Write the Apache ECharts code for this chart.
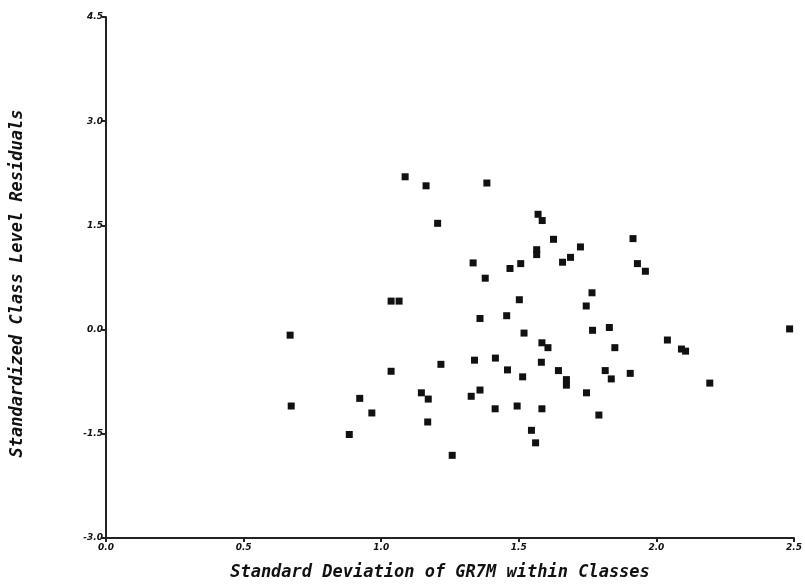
<!DOCTYPE html>
<html>
<head>
<meta charset="utf-8">
<script src="https://cdn.jsdelivr.net/npm/echarts@6/dist/echarts.min.js"></script>
<style>
  html, body { margin: 0; padding: 0; background: #fff; }
  #chart { width: 805px; height: 588px; }
</style>
</head>
<body>
<div id="chart"></div>
<script>
// Standard deviation of GR7M within each class (x)
var stdDevGR7M = [
  0.669, 0.673, 0.884, 0.922, 0.966, 1.036, 1.036, 1.065, 1.087, 1.163,
  1.205, 1.384, 1.334, 1.378, 1.468, 1.507, 1.570, 1.585, 1.565, 1.565,
  1.626, 1.659, 1.688, 1.724, 1.915, 1.931, 1.960, 1.766, 1.745, 1.502,
  1.456, 1.359, 1.519, 1.584, 1.606, 1.768, 1.829, 1.849, 2.040, 2.091,
  2.106, 2.484, 2.194, 1.905, 1.814, 1.836, 1.673, 1.673, 1.582, 1.644,
  1.514, 1.459, 1.746, 1.494, 1.584, 1.791, 1.217, 1.339, 1.415, 1.146,
  1.171, 1.169, 1.327, 1.359, 1.414, 1.546, 1.561, 1.258
];
// Standardised class-level residuals (y)
var classResiduals = [
  -0.08, -1.10, -1.51, -0.99, -1.20, -0.60, 0.41, 0.41, 2.20, 2.07,
  1.53, 2.11, 0.96, 0.74, 0.88, 0.95, 1.66, 1.57, 1.15, 1.08,
  1.30, 0.97, 1.04, 1.19, 1.31, 0.95, 0.84, 0.53, 0.34, 0.43,
  0.20, 0.16, -0.05, -0.19, -0.26, -0.01, 0.03, -0.26, -0.15, -0.28,
  -0.31, 0.01, -0.77, -0.63, -0.59, -0.71, -0.72, -0.80, -0.47, -0.59,
  -0.68, -0.58, -0.91, -1.10, -1.14, -1.23, -0.50, -0.44, -0.41, -0.91,
  -1.00, -1.33, -0.96, -0.87, -1.14, -1.45, -1.63, -1.81
];
var xTickLabels = ['0.0', '0.5', '1.0', '1.5', '2.0', '2.5'];
var yTickLabels = ['-3.0', '-1.5', '0.0', '1.5', '3.0', '4.5'];

var points = stdDevGR7M.map(function (x, i) { return [x, classResiduals[i]]; });

var tickFont = {
  color: '#111',
  fontFamily: 'DejaVu Sans',
  fontStyle: 'italic',
  fontWeight: 'bold',
  fontSize: 9
};
var nameFont = {
  color: '#111',
  fontFamily: 'DejaVu Sans Mono',
  fontStyle: 'italic',
  fontWeight: 'bold',
  fontSize: 17
};

var chart = echarts.init(document.getElementById('chart'), null, { renderer: 'canvas' });
chart.setOption({
  backgroundColor: '#ffffff',
  animation: false,
  grid: {
    left: 106, right: 11, top: 17, bottom: 50,
    containLabel: false,
    outerBoundsMode: 'none'
  },
  xAxis: {
    type: 'value',
    min: 0, max: 2.5, interval: 0.5,
    name: 'Standard Deviation of GR7M within Classes',
    nameLocation: 'middle',
    nameGap: 26,
    nameTextStyle: Object.assign({ padding: [0, 20, 0, 0] }, nameFont),
    axisLine: { onZero: false, lineStyle: { color: '#222', width: 2 } },
    axisTick: { show: true, length: 4, lineStyle: { color: '#222', width: 2 } },
    axisLabel: Object.assign({
      margin: 5,
      formatter: function (v) { return xTickLabels[Math.round(v / 0.5)]; }
    }, tickFont),
    splitLine: { show: false }
  },
  yAxis: {
    type: 'value',
    min: -3, max: 4.5, interval: 1.5,
    name: 'Standardized Class Level Residuals',
    nameLocation: 'middle',
    nameGap: 80,
    nameTextStyle: Object.assign({ padding: [0, 12, 0, 0] }, nameFont),
    axisLine: { onZero: false, lineStyle: { color: '#222', width: 2 } },
    axisTick: { show: true, length: 4, lineStyle: { color: '#222', width: 2 } },
    axisLabel: Object.assign({
      margin: 3,
      formatter: function (v) { return yTickLabels[Math.round((v + 3) / 1.5)]; }
    }, tickFont),
    splitLine: { show: false }
  },
  series: [{
    type: 'scatter',
    data: points,
    symbol: 'rect',
    symbolSize: 7,
    itemStyle: { color: '#111', opacity: 1 }
  }]
});
</script>
</body>
</html>
